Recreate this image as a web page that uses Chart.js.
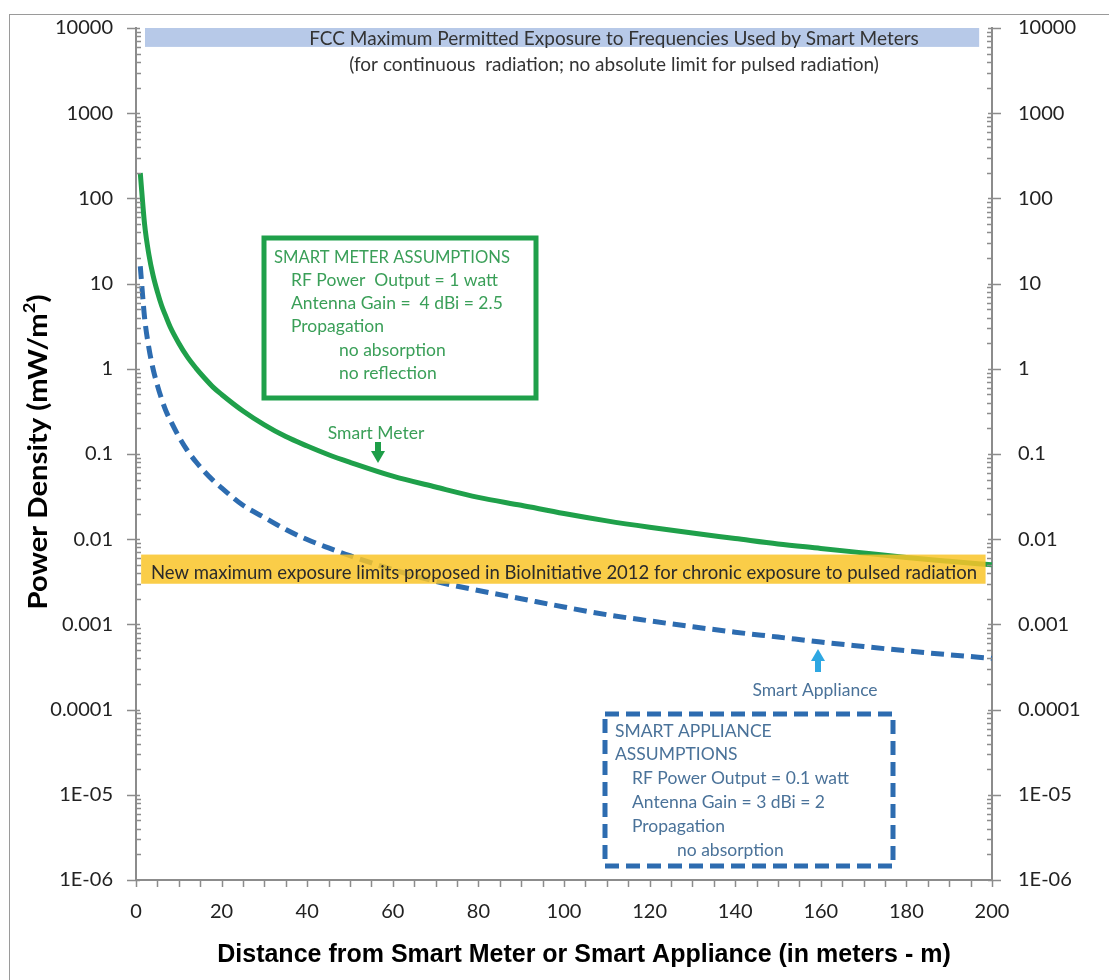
<!DOCTYPE html>
<html>
<head>
<meta charset="utf-8">
<title>Power density vs distance</title>
<script src="https://cdn.jsdelivr.net/npm/chart.js@4.4.1/dist/chart.umd.min.js"></script>
<style>
  html, body { margin: 0; padding: 0; background: #fff; }
</style>
</head>
<body>
<canvas id="powerChart" width="1109" height="980"></canvas>
<script>
// distance in meters
var distances = [1, 2, 3, 4, 5, 6, 7, 8, 10, 12, 14, 16, 18, 20, 25, 30, 35, 40, 45, 50,
                 60, 70, 80, 90, 100, 110, 120, 130, 140, 150, 160, 170, 180, 190, 200];
// power density, mW/m2
var smartMeter = [199, 50, 22, 12.4, 8.0, 5.5, 4.1, 3.1, 2.0, 1.38, 1.02, 0.78, 0.61, 0.50, 0.32, 0.22, 0.16, 0.124, 0.098, 0.080,
                  0.055, 0.041, 0.031, 0.025, 0.020, 0.0164, 0.0138, 0.0118, 0.0102, 0.0088, 0.0078, 0.0069, 0.0061, 0.0055, 0.0050];
var smartAppliance = [16, 4.0, 1.77, 0.99, 0.64, 0.44, 0.32, 0.25, 0.16, 0.11, 0.081, 0.062, 0.049, 0.040, 0.025, 0.018, 0.013, 0.0099, 0.0079, 0.0064,
                      0.0044, 0.0032, 0.0025, 0.0020, 0.0016, 0.0013, 0.0011, 0.00094, 0.00081, 0.00071, 0.00062, 0.00055, 0.00049, 0.00044, 0.00040];

var yTickValues = [1e-6, 1e-5, 1e-4, 1e-3, 1e-2, 0.1, 1, 10, 100, 1000, 10000];
var yTickLabels = ['1E-06', '1E-05', '0.0001', '0.001', '0.01', '0.1', '1', '10', '100', '1000', '10000'];
var xTickLabels = [0, 20, 40, 60, 80, 100, 120, 140, 160, 180, 200];

var fccBand = [6000, 10000];   // FCC limit band (mW/m2)
var bioBand = [0.003, 0.0066]; // BioInitiative 2012 band (mW/m2)

var axisColor = '#8c8c8c';
var tickFont = { family: 'Lato', size: 20 };

function buildLogTicks(axis) {
    var t = [];
    yTickValues.forEach(function(v, i) {
        t.push({ value: v });
        if (i < yTickValues.length - 1) {
            for (var m = 2; m < 10; m++) t.push({ value: v * m });
        }
    });
    axis.ticks = t;
}

function logLabel(value) {
    var i = yTickValues.indexOf(value);
    return i >= 0 ? yTickLabels[i] : '';
}

// fixed axis sizes so the plot area sits where the original one does
function fitVertical(width) {
    return function(axis) {
        axis.width = width;
        axis.paddingTop = 0;
        axis.paddingBottom = 0;
    };
}

// tick marks: majors outward, minors inward (like the excel original)
var tickMarks = {
    id: 'tickMarks',
    afterDraw: function(chart) {
        var ctx = chart.ctx;
        var y = chart.scales.y, x = chart.scales.x;
        var area = chart.chartArea;
        ctx.save();
        ctx.strokeStyle = axisColor;
        ctx.lineWidth = 1.5;
        ctx.beginPath();
        y.ticks.forEach(function(t) {
            var py = Math.round(y.getPixelForValue(t.value)) + 0.5;
            var major = yTickValues.indexOf(t.value) >= 0;
            if (major) {
                ctx.moveTo(area.left - 9, py); ctx.lineTo(area.left + 4, py);
                ctx.moveTo(area.right - 4, py); ctx.lineTo(area.right + 9, py);
            } else {
                ctx.moveTo(area.left, py); ctx.lineTo(area.left + 5, py);
                ctx.moveTo(area.right - 5, py); ctx.lineTo(area.right, py);
            }
        });
        x.ticks.forEach(function(t) {
            var px = Math.round(x.getPixelForValue(t.value)) + 0.5;
            ctx.moveTo(px, area.bottom); ctx.lineTo(px, area.bottom + 7);
        });
        ctx.stroke();

        // outer frame of the picture
        ctx.strokeStyle = '#9a9a9a';
        ctx.lineWidth = 1;
        ctx.strokeRect(9.5, 14.5, 2000, 2000);
        ctx.restore();
    }
};

var notes = {
    id: 'notes',
    afterDatasetsDraw: function(chart) {
        var ctx = chart.ctx;
        var xs = chart.scales.x, ys = chart.scales.y;
        ctx.save();

        // FCC band
        var fx1 = xs.getPixelForValue(2.1), fx2 = xs.getPixelForValue(197);
        var fy1 = ys.getPixelForValue(fccBand[1]), fy2 = ys.getPixelForValue(fccBand[0]);
        ctx.fillStyle = '#b7c9e8';
        ctx.fillRect(fx1, fy1, fx2 - fx1, fy2 - fy1);

        // BioInitiative band
        var bx1 = xs.getPixelForValue(1.2), bx2 = xs.getPixelForValue(198.5);
        var by1 = ys.getPixelForValue(bioBand[1]), by2 = ys.getPixelForValue(bioBand[0]);
        ctx.fillStyle = 'rgba(249, 196, 40, 0.85)';
        ctx.fillRect(bx1, by1, bx2 - bx1, by2 - by1);

        ctx.textBaseline = 'middle';
        ctx.font = '19px Lato';
        ctx.fillStyle = '#333';
        ctx.textAlign = 'center';
        ctx.fillText('FCC Maximum Permitted Exposure to Frequencies Used by Smart Meters', 614, 39, 618);
        ctx.fillText('(for continuous  radiation; no absolute limit for pulsed radiation)', 614, 65, 550);

        ctx.textAlign = 'left';
        ctx.font = '18.5px Lato';
        ctx.fillStyle = '#2b2b2b';
        ctx.fillText('New maximum exposure limits proposed in BioInitiative 2012 for chronic exposure to pulsed radiation', 151, 573, 834);

        // smart meter box
        ctx.strokeStyle = '#1fa04a';
        ctx.lineWidth = 5;
        ctx.strokeRect(264, 238, 272, 160);
        ctx.fillStyle = '#3a9f58';
        ctx.font = '17.5px Lato';
        ctx.fillText('SMART METER ASSUMPTIONS', 274, 257, 236);
        ctx.fillText('RF Power  Output = 1 watt', 291, 280);
        ctx.fillText('Antenna Gain =  4 dBi = 2.5', 291, 303);
        ctx.fillText('Propagation', 291, 326);
        ctx.fillText('no absorption', 339, 350);
        ctx.fillText('no reflection', 339, 373);

        // smart meter label + arrow
        ctx.textAlign = 'center';
        ctx.fillText('Smart Meter', 376, 433);
        ctx.fillStyle = '#1e9e48';
        ctx.fillRect(375, 442, 6, 10);
        ctx.beginPath();
        ctx.moveTo(371, 451); ctx.lineTo(385, 451); ctx.lineTo(378, 463); ctx.closePath();
        ctx.fill();

        // smart appliance label + arrow
        ctx.fillStyle = '#4a7299';
        ctx.fillText('Smart Appliance', 815, 690);
        ctx.fillStyle = '#2ea7e2';
        ctx.beginPath();
        ctx.moveTo(811, 661); ctx.lineTo(825, 661); ctx.lineTo(818, 649); ctx.closePath();
        ctx.fill();
        ctx.fillRect(815, 660, 6, 12);

        // smart appliance box
        ctx.strokeStyle = '#2d6cb0';
        ctx.lineWidth = 5;
        ctx.setLineDash([14, 7]);
        ctx.strokeRect(605, 714, 288, 152);
        ctx.setLineDash([]);
        ctx.textAlign = 'left';
        ctx.fillStyle = '#4a7299';
        ctx.fillText('SMART APPLIANCE', 615, 731);
        ctx.fillText('ASSUMPTIONS', 615, 754);
        ctx.fillText('RF Power Output = 0.1 watt', 632, 778);
        ctx.fillText('Antenna Gain = 3 dBi = 2', 632, 802);
        ctx.fillText('Propagation', 632, 826);
        ctx.fillText('no absorption', 677, 850);

        // x axis title
        ctx.fillStyle = '#000';
        ctx.font = 'bold 25px "Liberation Sans"';
        ctx.textAlign = 'center';
        ctx.fillText('Distance from Smart Meter or Smart Appliance (in meters - m)', 584, 955);

        // y axis title with superscript 2, squeezed to the original length
        var partA = 'Power Density (mW/m', partB = '2', partC = ')';
        ctx.textAlign = 'left';
        ctx.font = 'bold 27px Lato';
        var wA = ctx.measureText(partA).width, wC = ctx.measureText(partC).width;
        ctx.font = 'bold 17px Lato';
        var wB = ctx.measureText(partB).width;
        var total = wA + wB + wC;
        ctx.translate(38, 452);
        ctx.rotate(-Math.PI / 2);
        ctx.scale(315 / total, 1);
        ctx.translate(-total / 2, 0);
        ctx.font = 'bold 27px Lato';
        ctx.fillText(partA, 0, 0);
        ctx.fillText(partC, wA + wB, 0);
        ctx.font = 'bold 17px Lato';
        ctx.fillText(partB, wA, -8);
        ctx.restore();
    }
};

var ctx = document.getElementById('powerChart').getContext('2d');
var powerChart = new Chart(ctx, {
    type: 'line',
    data: {
        datasets: [{
            label: 'Smart Meter',
            data: distances.map(function(d, i) { return { x: d, y: smartMeter[i] }; }),
            borderColor: '#1fa04a',
            borderWidth: 5,
            pointRadius: 0,
            cubicInterpolationMode: 'monotone',
            fill: false
        }, {
            label: 'Smart Appliance',
            data: distances.map(function(d, i) { return { x: d, y: smartAppliance[i] }; }),
            borderColor: '#2d6cb0',
            borderWidth: 5,
            borderDash: [13, 7],
            pointRadius: 0,
            cubicInterpolationMode: 'monotone',
            fill: false
        }]
    },
    options: {
        responsive: false,
        animation: false,
        layout: { padding: { top: 28, left: 0, right: 0, bottom: 0 } },
        plugins: {
            legend: { display: false },
            tooltip: { enabled: false }
        },
        scales: {
            x: {
                type: 'linear',
                min: 0,
                max: 200,
                afterFit: function(axis) { axis.height = 100; },
                grid: { display: false, drawTicks: false },
                border: { display: true, color: axisColor, width: 2 },
                ticks: {
                    stepSize: 5,
                    autoSkip: false,
                    maxRotation: 0,
                    padding: 20,
                    color: '#222',
                    font: tickFont,
                    callback: function(v) { return xTickLabels.indexOf(v) >= 0 ? String(v) : ''; }
                }
            },
            y: {
                type: 'logarithmic',
                position: 'left',
                min: 1e-6,
                max: 10000,
                afterFit: fitVertical(136),
                afterBuildTicks: buildLogTicks,
                grid: { display: false, drawTicks: false },
                border: { display: true, color: axisColor, width: 2 },
                ticks: {
                    autoSkip: false,
                    padding: 23,
                    color: '#222',
                    font: tickFont,
                    callback: logLabel
                }
            },
            y2: {
                type: 'logarithmic',
                position: 'right',
                display: true,
                min: 1e-6,
                max: 10000,
                afterFit: fitVertical(117),
                afterBuildTicks: buildLogTicks,
                grid: { display: false, drawTicks: false },
                border: { display: true, color: axisColor, width: 2 },
                ticks: {
                    autoSkip: false,
                    padding: 26,
                    color: '#222',
                    font: tickFont,
                    callback: logLabel
                }
            }
        }
    },
    plugins: [notes, tickMarks]
});
</script>
</body>
</html>
